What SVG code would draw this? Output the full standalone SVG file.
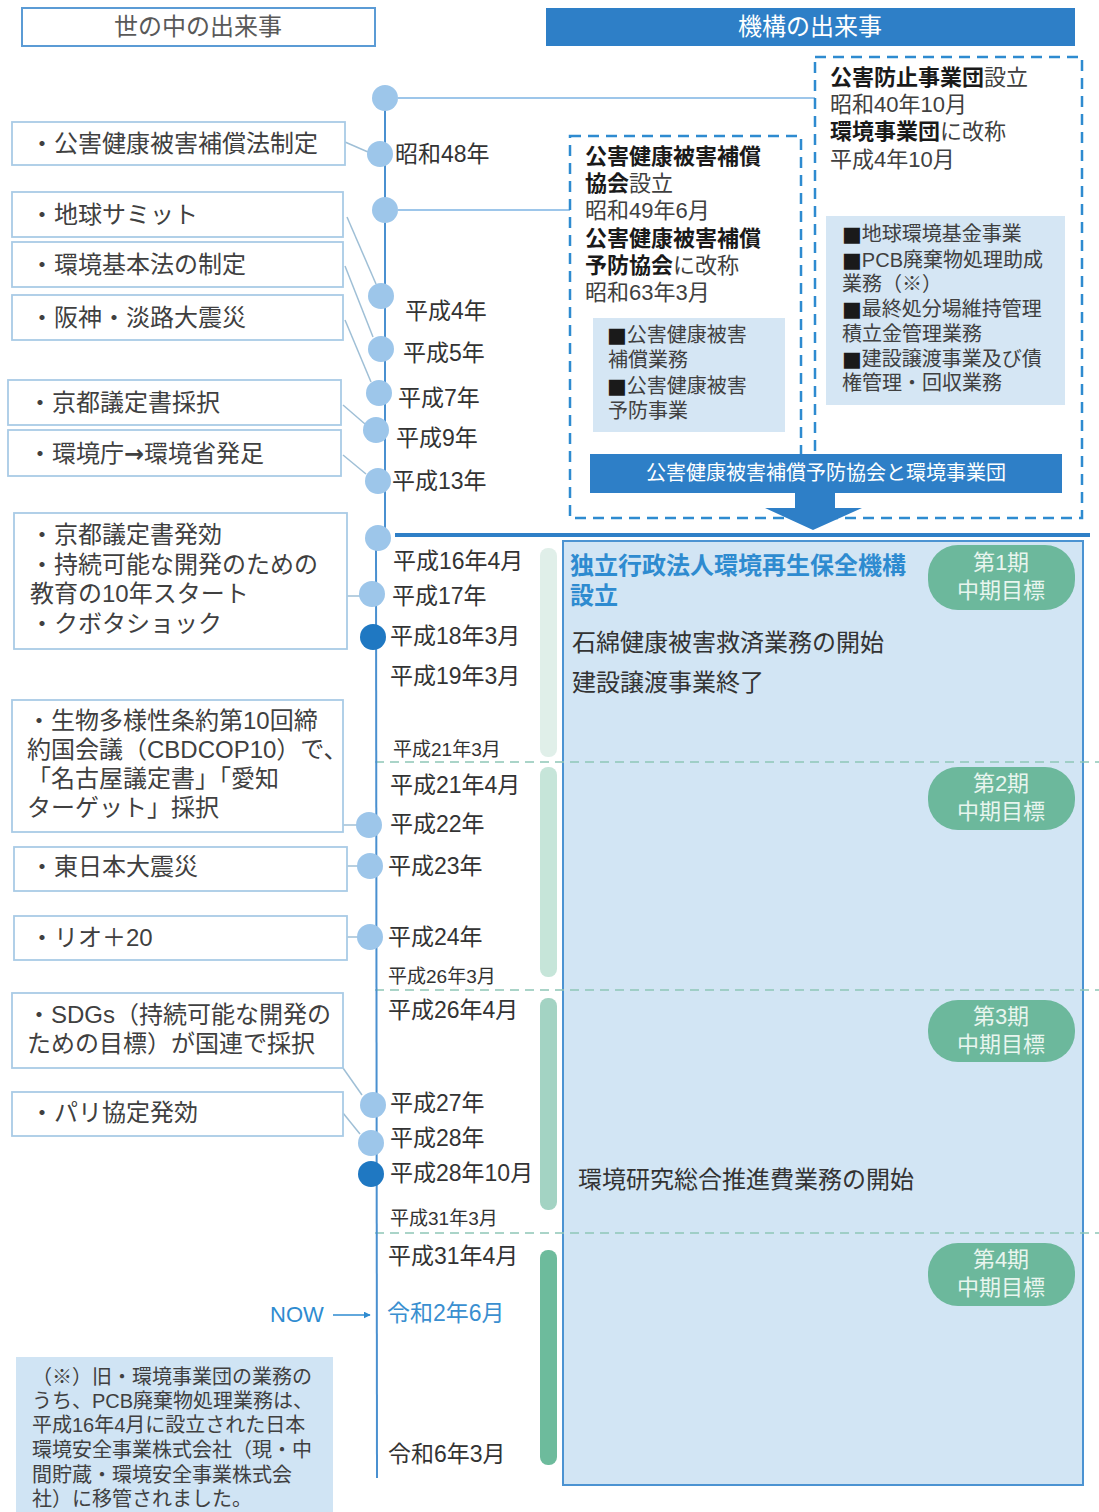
<svg xmlns="http://www.w3.org/2000/svg" width="1099" height="1512" viewBox="0 0 1099 1512">
<defs>
<style>
text{font-family:"Liberation Sans","Noto Sans CJK JP",sans-serif;fill:#404040}
.sq{font-family:"DejaVu Sans","Noto Sans CJK JP",sans-serif;font-size:21px;fill:#1a1a1a}
.ar{font-family:"DejaVu Sans","Noto Sans CJK JP",sans-serif;font-weight:bold}
.ev{fill:#fff;stroke:#a9cbe6;stroke-width:1.8}
.evt{font-size:24px;fill:#404040}
.dt{font-size:23px;fill:#333}
.dts{font-size:19px;fill:#333}
.cn{stroke:#9fbfd6;stroke-width:1.5;fill:none}
.dot{fill:#9dc6ea}
.dotd{fill:#1f78c2}
.dash{fill:none;stroke:#2e8bd0;stroke-width:2.5;stroke-dasharray:11 7}
.gd{stroke:#8fc6b6;stroke-width:1.6;stroke-dasharray:9 6}
.sub{fill:#d5e6f4}
.subt{font-size:20px;fill:#404040}
.bx{font-size:22px;fill:#404040}
.b{font-weight:bold;fill:#1a1a1a}
.pill{fill:#6cb89c}
.pt{font-size:22px;fill:#e8f5ee;text-anchor:middle}
.mt{font-size:24px;fill:#333}
.fn{font-size:20px;fill:#404040}
</style>
<marker id="ah" viewBox="0 0 10 10" refX="9" refY="5" markerWidth="7" markerHeight="7" orient="auto" markerUnits="userSpaceOnUse"><path d="M0,0 L10,5 L0,10 z" fill="#2e8bd0"/></marker>
</defs>
<rect width="1099" height="1512" fill="#fff"/>

<g id="header-left">
<rect x="22" y="8" width="353" height="38" fill="#fff" stroke="#5b9bd5" stroke-width="2"/>
<text x="198" y="35" font-size="24" text-anchor="middle" style="fill:#595959">世の中の出来事</text>
</g>
<g id="header-right">
<rect x="546" y="8" width="529" height="38" fill="#2e7fc7"/>
<text x="810" y="35" font-size="24" text-anchor="middle" style="fill:#fff">機構の出来事</text>
</g>

<g id="main-box">
<rect x="563" y="541" width="520" height="944" fill="#d2e5f4" stroke="#4b93d2" stroke-width="2"/>
</g>

<g id="period-bars">
<rect x="540" y="548" width="17" height="209" rx="8" fill="#e0efe9"/>
<rect x="540" y="767" width="17" height="210" rx="8" fill="#c6e5d9"/>
<rect x="540" y="998" width="17" height="212" rx="8" fill="#a3d3c3"/>
<rect x="540" y="1250" width="17" height="215" rx="8" fill="#6dbb9c"/>
</g>

<g id="period-dividers">
<line class="gd" x1="375" y1="762" x2="1099" y2="762"/>
<line class="gd" x1="375" y1="990" x2="1099" y2="990"/>
<line class="gd" x1="375" y1="1233" x2="1099" y2="1233"/>
</g>

<g id="connectors">
<line x1="385" y1="98" x2="385" y2="532" stroke="#4a90d0" stroke-width="2"/>
<line x1="376" y1="540" x2="377" y2="1478" stroke="#4a90d0" stroke-width="2"/>
<line x1="398" y1="98" x2="815" y2="98" stroke="#9dc6ea" stroke-width="2"/>
<line x1="398" y1="210" x2="570" y2="210" stroke="#9dc6ea" stroke-width="2"/>
<line x1="395" y1="535" x2="1090" y2="535" stroke="#2e7fc7" stroke-width="4"/>
<line class="cn" x1="345" y1="142" x2="368" y2="152"/>
<line class="cn" x1="347" y1="217" x2="376" y2="284"/>
<line class="cn" x1="345" y1="266" x2="373" y2="337"/>
<line class="cn" x1="345" y1="320" x2="371" y2="382"/>
<line class="cn" x1="343" y1="405" x2="365" y2="424"/>
<line class="cn" x1="343" y1="455" x2="366" y2="474"/>
<line class="cn" x1="347" y1="596" x2="360" y2="596"/>
<line class="cn" x1="343" y1="825" x2="357" y2="825"/>
<line class="cn" x1="347" y1="866" x2="358" y2="866"/>
<line class="cn" x1="347" y1="937" x2="358" y2="937"/>
<line class="cn" x1="343" y1="1068" x2="362" y2="1095"/>
<line class="cn" x1="343" y1="1113" x2="360" y2="1134"/>
<line x1="333" y1="1315" x2="370" y2="1315" stroke="#2e8bd0" stroke-width="1.5" marker-end="url(#ah)"/>
</g>

<g id="timeline-dots">
<circle class="dot" cx="385" cy="98" r="13"/>
<circle class="dot" cx="380" cy="154" r="13"/>
<circle class="dot" cx="385" cy="210" r="13"/>
<circle class="dot" cx="381" cy="296" r="13"/>
<circle class="dot" cx="381" cy="349" r="13"/>
<circle class="dot" cx="379" cy="393" r="13"/>
<circle class="dot" cx="376" cy="430" r="13"/>
<circle class="dot" cx="378" cy="481" r="13"/>
<circle class="dot" cx="378" cy="538" r="13"/>
<circle class="dot" cx="372" cy="594" r="13"/>
<circle class="dotd" cx="373" cy="637" r="13"/>
<circle class="dot" cx="369" cy="825" r="13"/>
<circle class="dot" cx="370" cy="866" r="13"/>
<circle class="dot" cx="370" cy="937" r="13"/>
<circle class="dot" cx="373" cy="1105" r="13"/>
<circle class="dot" cx="371" cy="1143" r="13"/>
<circle class="dotd" cx="371" cy="1174" r="13"/>
</g>

<g id="dates">
<text class="dt" x="395" y="162">昭和48年</text>
<text class="dt" x="405" y="319">平成4年</text>
<text class="dt" x="403" y="361">平成5年</text>
<text class="dt" x="398" y="406">平成7年</text>
<text class="dt" x="396" y="446">平成9年</text>
<text class="dt" x="392" y="489">平成13年</text>
<text class="dt" x="393" y="569">平成16年4月</text>
<text class="dt" x="392" y="604">平成17年</text>
<text class="dt" x="390" y="644">平成18年3月</text>
<text class="dt" x="390" y="684">平成19年3月</text>
<text class="dts" x="393" y="756">平成21年3月</text>
<text class="dt" x="390" y="793">平成21年4月</text>
<text class="dt" x="390" y="832">平成22年</text>
<text class="dt" x="388" y="874">平成23年</text>
<text class="dt" x="388" y="945">平成24年</text>
<text class="dts" x="388" y="983">平成26年3月</text>
<text class="dt" x="388" y="1018">平成26年4月</text>
<text class="dt" x="390" y="1111">平成27年</text>
<text class="dt" x="390" y="1146">平成28年</text>
<text class="dt" x="390" y="1181">平成28年10月</text>
<text class="dts" x="390" y="1225">平成31年3月</text>
<text class="dt" x="388" y="1264">平成31年4月</text>
<text class="dt" x="387" y="1321" style="fill:#3a8fd0">令和2年6月</text>
<text class="dt" x="388" y="1462">令和6年3月</text>
<text x="270" y="1322" font-size="22" style="fill:#2e8bd0">NOW</text>
</g>

<g id="ev1"><rect class="ev" x="12" y="122" width="333" height="43"/><text class="evt" x="30" y="152">・公害健康被害補償法制定</text></g>
<g id="ev2"><rect class="ev" x="12" y="192" width="331" height="45"/><text class="evt" x="30" y="223">・地球サミット</text></g>
<g id="ev3"><rect class="ev" x="12" y="242" width="331" height="45"/><text class="evt" x="30" y="273">・環境基本法の制定</text></g>
<g id="ev4"><rect class="ev" x="12" y="295" width="331" height="45"/><text class="evt" x="30" y="326">・阪神・淡路大震災</text></g>
<g id="ev5"><rect class="ev" x="8" y="380" width="333" height="45"/><text class="evt" x="28" y="411">・京都議定書採択</text></g>
<g id="ev6"><rect class="ev" x="8" y="430" width="333" height="46"/><text class="evt" x="28" y="462">・環境庁<tspan class="ar">→</tspan>環境省発足</text></g>
<g id="ev7"><rect class="ev" x="14" y="513" width="333" height="136"/>
<text class="evt"><tspan x="30" y="543">・京都議定書発効</tspan><tspan x="30" y="573">・持続可能な開発のための</tspan><tspan x="30" y="602">教育の10年スタート</tspan><tspan x="30" y="632">・クボタショック</tspan></text></g>
<g id="ev8"><rect class="ev" x="12" y="700" width="331" height="132"/>
<text class="evt"><tspan x="27" y="729">・生物多様性条約第10回締</tspan><tspan x="27" y="758">約国会議（CBDCOP10）で、</tspan><tspan x="27" y="787">「名古屋議定書」「愛知</tspan><tspan x="27" y="816">ターゲット」採択</tspan></text></g>
<g id="ev9"><rect class="ev" x="14" y="847" width="333" height="44"/><text class="evt" x="30" y="875">・東日本大震災</text></g>
<g id="ev10"><rect class="ev" x="14" y="916" width="333" height="44"/><text class="evt" x="30" y="946">・リオ＋20</text></g>
<g id="ev11"><rect class="ev" x="12" y="993" width="331" height="75"/>
<text class="evt"><tspan x="27" y="1023">・SDGs（持続可能な開発の</tspan><tspan x="27" y="1052">ための目標）が国連で採択</tspan></text></g>
<g id="ev12"><rect class="ev" x="12" y="1092" width="331" height="44"/><text class="evt" x="30" y="1121">・パリ協定発効</text></g>

<g id="org-kankyo">
<rect class="dash" x="815" y="57" width="267" height="461"/>
<text class="bx"><tspan x="830" y="85" class="b">公害防止事業団</tspan><tspan>設立</tspan><tspan x="830" y="112">昭和40年10月</tspan><tspan x="830" y="139" class="b">環境事業団</tspan><tspan>に改称</tspan><tspan x="830" y="167">平成4年10月</tspan></text>
<rect class="sub" x="826" y="216" width="239" height="189"/>
<text class="subt"><tspan x="842" y="241" class="sq">■</tspan><tspan>地球環境基金事業</tspan><tspan x="842" y="267" class="sq">■</tspan><tspan>PCB廃棄物処理助成</tspan><tspan x="842" y="291">業務（※）</tspan><tspan x="842" y="316" class="sq">■</tspan><tspan>最終処分場維持管理</tspan><tspan x="842" y="341">積立金管理業務</tspan><tspan x="842" y="366" class="sq">■</tspan><tspan>建設譲渡事業及び債</tspan><tspan x="842" y="390">権管理・回収業務</tspan></text>
</g>

<g id="org-kogai">
<rect class="dash" x="570" y="136" width="231" height="382"/>
<text class="bx"><tspan x="585" y="164" class="b">公害健康被害補償</tspan><tspan x="585" y="191" class="b">協会</tspan><tspan>設立</tspan><tspan x="585" y="218">昭和49年6月</tspan><tspan x="585" y="246" class="b">公害健康被害補償</tspan><tspan x="585" y="273" class="b">予防協会</tspan><tspan>に改称</tspan><tspan x="585" y="300">昭和63年3月</tspan></text>
<rect class="sub" x="593" y="318" width="192" height="114"/>
<text class="subt"><tspan x="607" y="342" class="sq">■</tspan><tspan>公害健康被害</tspan><tspan x="608" y="367">補償業務</tspan><tspan x="607" y="393" class="sq">■</tspan><tspan>公害健康被害</tspan><tspan x="608" y="418">予防事業</tspan></text>
</g>

<g id="merge">
<rect x="590" y="454" width="472" height="39" fill="#2e7fc7"/>
<text x="826" y="480" font-size="20" text-anchor="middle" style="fill:#fff">公害健康被害補償予防協会と環境事業団</text>
<polygon points="795,493 835,493 835,508 862,508 813,530 765,508 795,508" fill="#2e7fc7"/>
</g>

<g id="erca-events">
<text font-size="24" font-weight="bold" style="fill:#2e8bd0"><tspan x="570" y="574">独立行政法人環境再生保全機構</tspan><tspan x="570" y="604">設立</tspan></text>
<text class="mt" x="572" y="651">石綿健康被害救済業務の開始</text>
<text class="mt" x="572" y="691">建設譲渡事業終了</text>
<text class="mt" x="578" y="1188">環境研究総合推進費業務の開始</text>
</g>

<g id="period1"><rect class="pill" x="928" y="545" width="147" height="65" rx="30"/><text class="pt"><tspan x="1001" y="570">第1期</tspan><tspan x="1001" y="598">中期目標</tspan></text></g>
<g id="period2"><rect class="pill" x="928" y="767" width="147" height="63" rx="30"/><text class="pt"><tspan x="1001" y="791">第2期</tspan><tspan x="1001" y="819">中期目標</tspan></text></g>
<g id="period3"><rect class="pill" x="928" y="1000" width="147" height="62" rx="30"/><text class="pt"><tspan x="1001" y="1024">第3期</tspan><tspan x="1001" y="1052">中期目標</tspan></text></g>
<g id="period4"><rect class="pill" x="928" y="1243" width="147" height="63" rx="30"/><text class="pt"><tspan x="1001" y="1267">第4期</tspan><tspan x="1001" y="1295">中期目標</tspan></text></g>

<g id="footnote">
<rect x="16" y="1357" width="317" height="160" fill="#d0e4f4"/>
<text class="fn"><tspan x="32" y="1384">（※）旧・環境事業団の業務の</tspan><tspan x="32" y="1408">うち、PCB廃棄物処理業務は、</tspan><tspan x="32" y="1432">平成16年4月に設立された日本</tspan><tspan x="32" y="1457">環境安全事業株式会社（現・中</tspan><tspan x="32" y="1482">間貯蔵・環境安全事業株式会</tspan><tspan x="32" y="1506">社）に移管されました。</tspan></text>
</g>
</svg>
